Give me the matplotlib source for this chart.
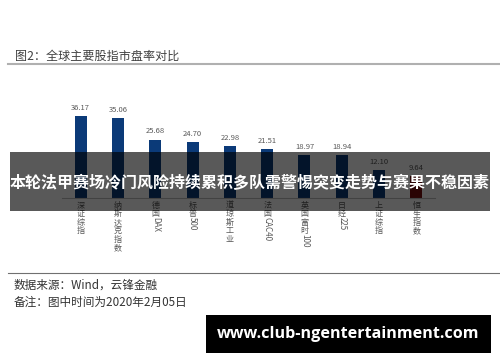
import re
import numpy as np
import matplotlib
matplotlib.use('Agg')
from matplotlib import pyplot as plt
from matplotlib.patches import Rectangle
from matplotlib.lines import Line2D

plt.rcParams['font.family'] = ['Noto Sans CJK SC', 'DejaVu Sans']

# data
labels = ['深证综指', '纳斯达克指数', '德国DAX', '标普500', '道琼斯工业',
          '法国CAC40', '英国富时100', '日经225', '上证综指', '恒生指数']
pe = [36.17, 35.06, 25.68, 24.70, 22.98, 21.51, 18.97, 18.94, 12.10, 9.64]
colors = ['#0b3a78'] * 9 + ['#7a0c0c']

title = '图2：全球主要股指市盘率对比'
source = '数据来源：Wind，云锋金融'
note = '备注：图中时间为2020年2月05日'
banner = '本轮法甲赛场冷门风险持续累积多队需警惕突变走势与赛果不稳因素'
watermark = 'www.club-ngentertainment.com'

W, H = 500, 362
fig = plt.figure(figsize=(5, 3.62), dpi=100)


def px(x, y):
    # pixel coords (top-left origin) -> figure fraction
    return x / W, 1 - y / H


def vlabel(ax, x, label, fs=5.8, color='#595959'):
    # east-asian style vertical label: CJK upright, latin rotated
    y = -2.0
    for s in re.findall(r'[\u2e80-\uffff]|[^\u2e80-\uffff]+', label):
        if ord(s[0]) >= 0x2e80:
            ax.annotate(s, (x, 0), xytext=(0, y), textcoords='offset points',
                        ha='center', va='top', fontsize=fs, color=color,
                        annotation_clip=False)
            y -= fs * 1.05
        else:
            ax.annotate(s, (x, 0), xytext=(0, y + 0.3), textcoords='offset points',
                        ha='center', va='top', fontsize=fs, color=color,
                        rotation=-90, annotation_clip=False)
            y -= len(s) * fs * 0.6


l, b = px(62, 198)
r, t = px(435, 107)
ax = fig.add_axes([l, b, r - l, t - b])
x = np.arange(len(labels))
ax.bar(x, pe, width=0.32, color=colors)
ax.set_xlim(-0.5, len(labels) - 0.5)
ax.set_ylim(0, 40)
for s in ['top', 'right', 'left']:
    ax.spines[s].set_visible(False)
ax.spines['bottom'].set_color('#bfbfbf')
ax.spines['bottom'].set_linewidth(0.8)
ax.set_yticks([])
ax.set_xticks([])
for i, v in enumerate(pe):
    ax.annotate('%.2f' % v, (i, v), xytext=(0, 3), textcoords='offset points',
                ha='center', va='bottom', fontsize=5.5, color='#595959')
    vlabel(ax, i, labels[i])

# header
fig.text(*px(15, 56), title, fontsize=8.7, color='#404040', va='center', ha='left')
fig.add_artist(Line2D([8 / W, 1], [1 - 64 / H] * 2, color='#b0b0b0', lw=1.5))

# footer
fig.add_artist(Line2D([8 / W, 1], [1 - 273 / H] * 2, color='#707070', lw=0.8))
fig.text(*px(14, 285), source, fontsize=8.4, color='#333333', va='center')
fig.text(*px(14, 302), note, fontsize=8.4, color='#333333', va='center')

# overlay banner
bx, by = px(10, 211)
fig.add_artist(Rectangle((bx, by), 480 / W, 59 / H, transform=fig.transFigure,
                         facecolor='black', alpha=0.65, edgecolor='none', zorder=5))
fig.text(*px(250, 183), banner, fontsize=11.5, fontweight='bold', color='white',
         ha='center', va='center', zorder=6)

# watermark
wx, wy = px(206, 353)
fig.add_artist(Rectangle((wx, wy), 285 / W, 38 / H, transform=fig.transFigure,
                         facecolor='black', edgecolor='none', zorder=5))
fig.text(*px(348, 334), watermark, fontsize=11.6, fontweight='bold', color='white',
         family='Open Sans', ha='center', va='center', zorder=6)

fig.savefig('out.png', dpi=100)
